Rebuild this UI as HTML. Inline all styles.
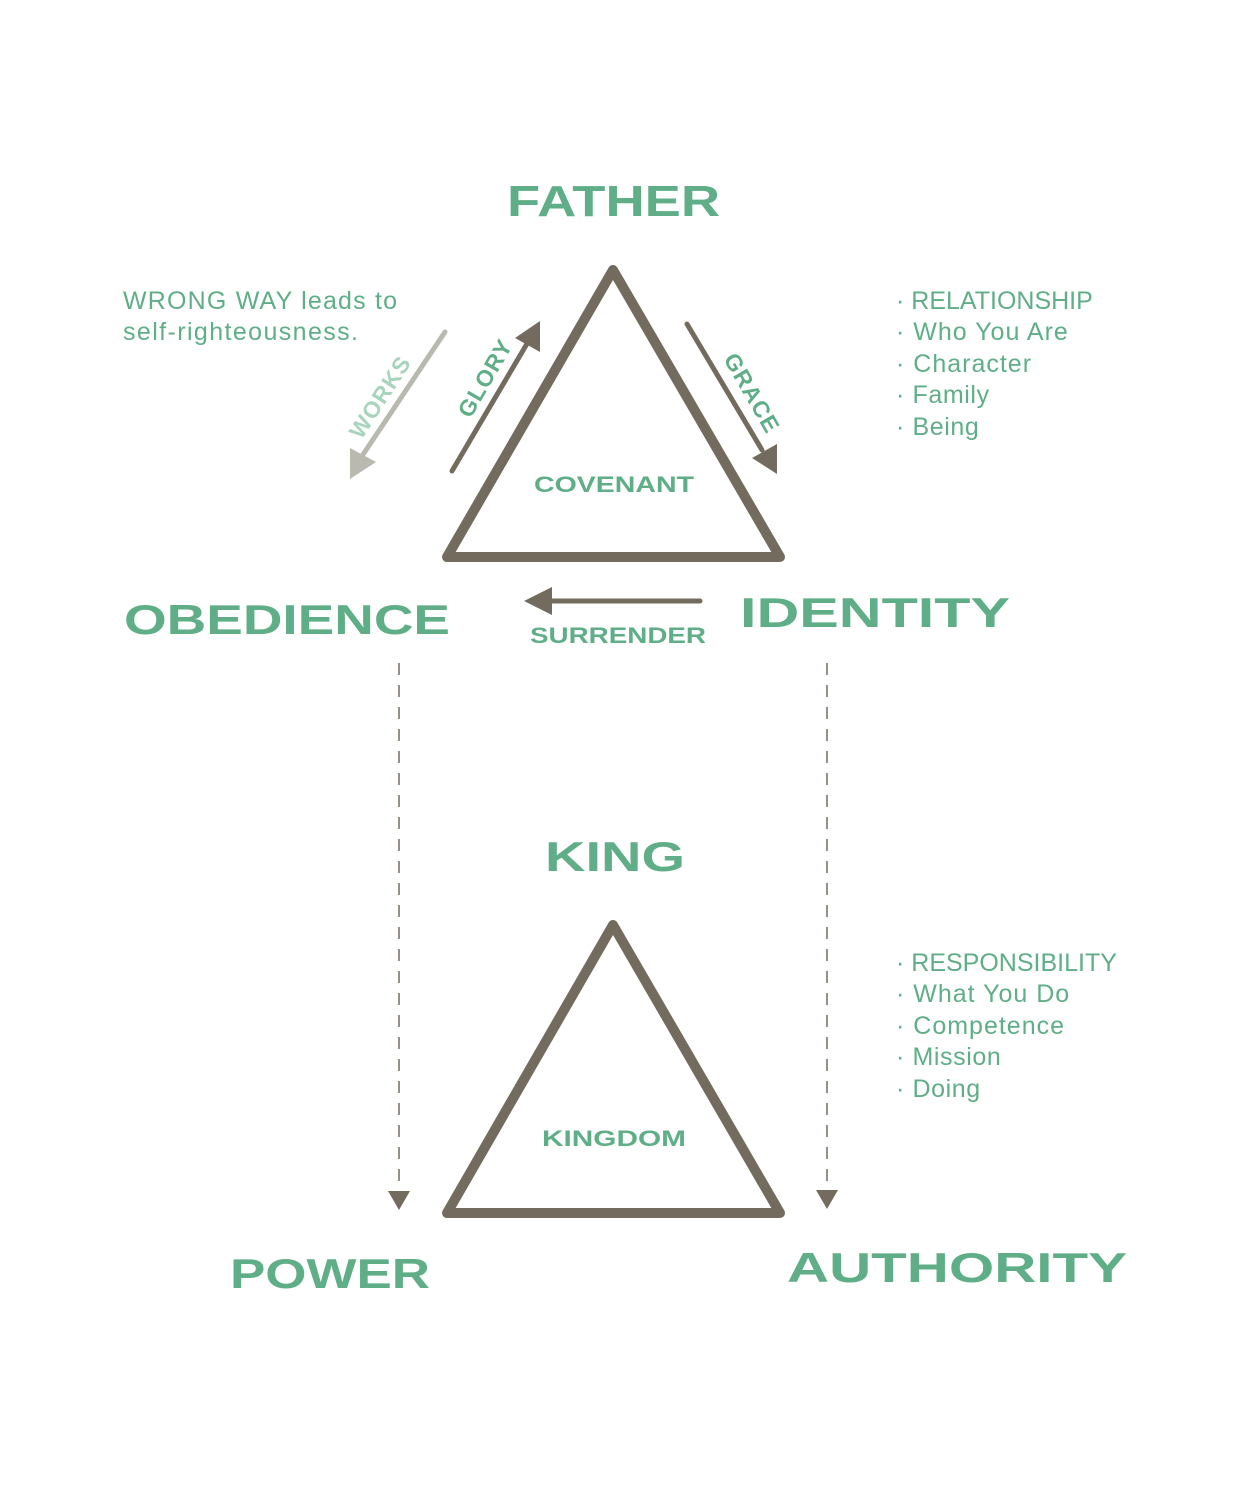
<!DOCTYPE html>
<html><head><style>html,body{margin:0;padding:0;background:#fff}svg{display:block}</style></head>
<body>
<svg width="1250" height="1500" viewBox="0 0 1250 1500" xmlns="http://www.w3.org/2000/svg" font-family="Liberation Sans, sans-serif">
<g fill="none" stroke="#736c5e" stroke-width="10" stroke-linejoin="round" stroke-linecap="round">
<polygon points="613,270 447,557 780,557"/>
<polygon points="613,925 447,1213 780,1213"/>
</g>
<g stroke="#736c5e" stroke-width="5" stroke-linecap="round">
<line x1="452" y1="471" x2="528" y2="342"/>
<line x1="687" y1="324" x2="762" y2="450"/>
<line x1="700" y1="601" x2="548" y2="601"/>
</g>
<g fill="#736c5e">
<polygon points="540,321 540,352 515,338"/>
<polygon points="777,474 752,458 777,444"/>
<polygon points="524,601 552,587 552,615"/>
<polygon points="388,1191 410,1191 399,1210"/>
<polygon points="816,1190 838,1190 827,1209"/>
</g>
<line x1="445" y1="332" x2="362" y2="456" stroke="#bab9b0" stroke-width="5" stroke-linecap="round"/>
<polygon points="350,479 350,448 376,462" fill="#bab9b0"/>
<g stroke="#736c5e" stroke-width="1.5" stroke-dasharray="12,10">
<line x1="399" y1="663" x2="399" y2="1190"/>
<line x1="827" y1="663" x2="827" y2="1190"/>
</g>
<g fill="#5fae87" font-weight="bold">
<text x="507" y="216" font-size="44" textLength="213" lengthAdjust="spacingAndGlyphs">FATHER</text>
<text x="124" y="634" font-size="42" textLength="326" lengthAdjust="spacingAndGlyphs">OBEDIENCE</text>
<text x="740" y="627" font-size="42" textLength="270" lengthAdjust="spacingAndGlyphs">IDENTITY</text>
<text x="545" y="871" font-size="42" textLength="140" lengthAdjust="spacingAndGlyphs">KING</text>
<text x="230" y="1288" font-size="42" textLength="200" lengthAdjust="spacingAndGlyphs">POWER</text>
<text x="787" y="1282" font-size="42" textLength="340" lengthAdjust="spacingAndGlyphs">AUTHORITY</text>
<text x="534" y="492" font-size="22" textLength="160" lengthAdjust="spacingAndGlyphs">COVENANT</text>
<text x="530" y="643" font-size="22" textLength="176" lengthAdjust="spacingAndGlyphs">SURRENDER</text>
<text x="542" y="1146" font-size="22" textLength="144" lengthAdjust="spacingAndGlyphs">KINGDOM</text>
<text transform="translate(485,378) rotate(-60)" x="0" y="8" font-size="23" text-anchor="middle" letter-spacing="1">GLORY</text>
<text transform="translate(752,393) rotate(60)" x="0" y="8" font-size="23" text-anchor="middle" letter-spacing="1">GRACE</text>
<text transform="translate(380,397) rotate(-57)" x="0" y="8" font-size="23" text-anchor="middle" letter-spacing="1" fill="#a8d4bd">WORKS</text>
</g>
<g fill="#5fae87" font-size="25">
<text x="123" y="309" textLength="274">WRONG WAY leads to</text>
<text x="123" y="340" textLength="235">self-righteousness.</text>
<text x="896" y="309">· RELATIONSHIP</text>
<text x="896" y="340" letter-spacing="1">· Who You Are</text>
<text x="896" y="372" letter-spacing="1">· Character</text>
<text x="896" y="403" letter-spacing="0.6">· Family</text>
<text x="896" y="435" letter-spacing="0.6">· Being</text>
<text x="896" y="971">· RESPONSIBILITY</text>
<text x="896" y="1002" letter-spacing="1">· What You Do</text>
<text x="896" y="1034" letter-spacing="1">· Competence</text>
<text x="896" y="1065" letter-spacing="0.6">· Mission</text>
<text x="896" y="1097" letter-spacing="0.6">· Doing</text>
</g>
</svg>
</body></html>
